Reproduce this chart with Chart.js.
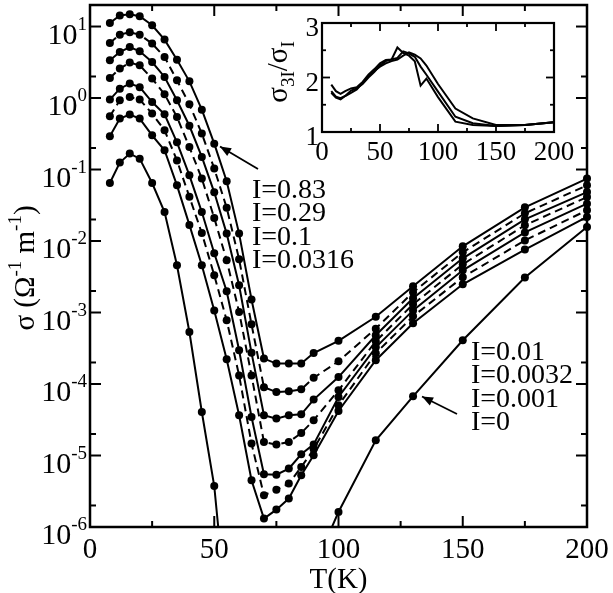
<!DOCTYPE html>
<html>
<head>
<meta charset="utf-8">
<script src="https://cdn.jsdelivr.net/npm/chart.js@4.4.0/dist/chart.umd.min.js"></script>
<style>
html,body{margin:0;padding:0;background:#fff;overflow:hidden}
#wrap{position:relative;width:613px;height:593px;background:#fff}
#main{position:absolute;left:0;top:0}
#inset{position:absolute;left:250px;top:0}
</style>
</head>
<body>
<div id="wrap">
<canvas id="main" width="613" height="593"></canvas>
<canvas id="inset" width="350" height="175"></canvas>
</div>
<script>
// ---------- data (main panel) ----------
const T_VALUES = [8,12,16,20,25,30,35,40,45,50,55,60,65,70,75,80,85,90,100,115,130,150,175,200];
const SIGMA_I083   = [11.2,14.3,14.8,13.9,10.4,6.56,3.44,1.71,0.688,0.230,0.0684,0.0127,1.52e-3,2.27e-4,1.93e-4,1.93e-4,1.93e-4,2.71e-4,4.02e-4,8.71e-4,2.33e-3,8.43e-3,0.0296,0.0746];
const SIGMA_I029   = [5.88,7.70,8.29,7.70,5.77,3.75,1.77,0.816,0.318,0.103,0.0293,5.55e-3,6.84e-4,8.99e-5,7.73e-5,7.90e-5,8.43e-5,1.22e-4,2.08e-4,5.95e-4,1.92e-3,6.95e-3,0.0244,0.0601];
const SIGMA_I01    = [3.37,4.40,5.17,4.50,3.19,1.97,0.929,0.409,0.150,0.0480,0.0127,2.40e-3,2.73e-4,3.65e-5,3.28e-5,3.65e-5,3.77e-5,6.05e-5,1.25e-4,4.80e-4,1.58e-3,5.73e-3,0.0201,0.0484];
const SIGMA_I00316 = [1.90,2.58,3.13,2.87,1.87,1.13,0.542,0.206,0.0746,0.0210,5.37e-3,1.02e-3,1.32e-4,1.54e-5,1.42e-5,1.54e-5,2.06e-5,3.11e-5,8.16e-5,3.96e-4,1.30e-3,4.72e-3,0.0166,0.0412];
const SIGMA_I001   = [0.950,1.35,1.59,1.42,0.879,0.592,0.240,0.0829,0.0254,6.73e-3,1.98e-3,2.96e-4,3.45e-5,5.46e-6,5.40e-6,6.56e-6,1.04e-5,1.43e-5,6.58e-5,3.26e-4,1.07e-3,3.89e-3,0.0132,0.0333];
const SIGMA_I00032 = [0.555,0.929,1.03,0.950,0.605,0.353,0.134,0.0415,0.0129,3.31e-3,7.78e-4,1.32e-4,1.47e-5,2.78e-6,3.33e-6,4.05e-6,6.90e-6,1.22e-5,5.04e-5,2.69e-4,8.85e-4,3.11e-3,0.0102,0.0269];
const SIGMA_I0001  = [0.291,0.515,0.586,0.515,0.301,0.186,0.0601,0.0168,4.57e-3,1.07e-3,2.22e-4,3.65e-5,4.50e-6,1.31e-6,1.75e-6,2.50e-6,5.28e-6,1.01e-5,4.19e-5,2.15e-4,7.06e-4,2.48e-3,7.58e-3,0.0217];
const SIGMA_I0     = [0.0648,0.125,0.167,0.142,0.0648,0.0254,4.57e-3,5.34e-4,4.06e-5,3.74e-6,6e-8,null,null,null,null,null,null,2.6e-7,1.62e-6,1.63e-5,6.73e-5,4.09e-4,3.08e-3,0.0157];

const LABELS_HIGH = ['I=0.83','I=0.29','I=0.1','I=0.0316'];
const LABELS_LOW  = ['I=0.01','I=0.0032','I=0.001','I=0'];
const X_TICKS = [0,50,100,150,200];
const X_MINOR = [25,75,125,175];
const Y_TICK_EXP = [-6,-5,-4,-3,-2,-1,0,1];
const Y_MINOR = [2e-6,2e-5,2e-4,2e-3,2e-2,2e-1,2];

// ---------- data (inset) ----------
const INSET_T  = [8,12,16,20,25,30,35,40,45,50,55,60,65,70,75,80,85,90,100,115,130,150,175,200];
const RATIO_A  = [1.87,1.75,1.70,1.75,1.80,1.82,1.92,2.05,2.15,2.26,2.32,2.33,2.55,2.45,2.40,2.30,1.85,1.98,1.64,1.19,1.13,1.11,1.13,1.18];
const RATIO_B  = [1.75,1.65,1.62,1.66,1.76,1.80,1.88,2.00,2.10,2.22,2.30,2.33,2.36,2.48,2.44,2.38,2.20,2.05,1.74,1.28,1.16,1.11,1.13,1.18];
const RATIO_C  = [1.72,1.63,1.60,1.66,1.72,1.78,1.90,2.02,2.12,2.20,2.26,2.30,2.33,2.40,2.46,2.42,2.35,2.22,1.88,1.43,1.25,1.13,1.13,1.18];
const INSET_X_TICKS = [0,50,100,150,200];
const INSET_X_MINOR = [25,75,125,175];
const INSET_Y_TICKS = [1,2,3];
const INSET_Y_MINOR = [1.5,2.5];

const FONT = "'Liberation Serif','Times New Roman',serif";

function line(ctx,x1,y1,x2,y2){ctx.beginPath();ctx.moveTo(x1,y1);ctx.lineTo(x2,y2);ctx.stroke();}
function arrow(ctx,x1,y1,x2,y2){
  line(ctx,x1,y1,x2,y2);
  const ang=Math.atan2(y2-y1,x2-x1), L=11, W=4.5;
  ctx.beginPath();
  ctx.moveTo(x2,y2);
  ctx.lineTo(x2-L*Math.cos(ang)+W*Math.sin(ang), y2-L*Math.sin(ang)-W*Math.cos(ang));
  ctx.lineTo(x2-L*Math.cos(ang)-W*Math.sin(ang), y2-L*Math.sin(ang)+W*Math.cos(ang));
  ctx.closePath(); ctx.fill();
}
function drawPieces(ctx,pieces,x,y,align){
  let w=0;
  pieces.forEach(p=>{ctx.font=p.size+'px '+FONT; p.w=ctx.measureText(p.t).width; w+=p.w;});
  let cx = align==='right'? x-w : (align==='center'? x-w/2 : x);
  ctx.textAlign='left'; ctx.textBaseline='alphabetic';
  pieces.forEach(p=>{ctx.font=p.size+'px '+FONT; ctx.fillText(p.t,cx,y+(p.shift||0)); cx+=p.w;});
}

const mainDecor = {
  id:'mainDecor',
  afterDraw(chart){
    const {ctx, chartArea:a, scales:{x,y}} = chart;
    ctx.save();
    ctx.strokeStyle='#000'; ctx.fillStyle='#000';
    ctx.lineWidth=2.5;
    ctx.strokeRect(a.left,a.top,a.right-a.left,a.bottom-a.top);
    ctx.lineWidth=2;
    X_TICKS.forEach(v=>{const p=x.getPixelForValue(v); line(ctx,p,a.bottom,p,a.bottom-11); line(ctx,p,a.top,p,a.top+11);});
    X_MINOR.forEach(v=>{const p=x.getPixelForValue(v); line(ctx,p,a.bottom,p,a.bottom-6); line(ctx,p,a.top,p,a.top+6);});
    Y_TICK_EXP.forEach(e=>{const p=y.getPixelForValue(Math.pow(10,e)); line(ctx,a.left,p,a.left+11,p); line(ctx,a.right,p,a.right-11,p);});
    Y_MINOR.forEach(v=>{const p=y.getPixelForValue(v); line(ctx,a.left,p,a.left+6,p); line(ctx,a.right,p,a.right-6,p);});
    ctx.font='29px '+FONT; ctx.textAlign='center'; ctx.textBaseline='alphabetic';
    X_TICKS.forEach(v=>{ctx.fillText(String(v), x.getPixelForValue(v), a.bottom+31);});
    Y_TICK_EXP.forEach(e=>{
      const p=y.getPixelForValue(Math.pow(10,e));
      drawPieces(ctx,[{t:'10',size:30,shift:0},{t:String(e),size:19,shift:-14}],87,p+17,'right');
    });
    ctx.font='29px '+FONT; ctx.textAlign='center';
    ctx.fillText('T(K)', x.getPixelForValue(100), 588);
    ctx.save();
    ctx.translate(34,268); ctx.rotate(-Math.PI/2);
    drawPieces(ctx,[{t:'σ (Ω',size:29},{t:'-1',size:19,shift:-13},{t:' m',size:29},{t:'-1',size:19,shift:-13},{t:')',size:29}],0,0,'center');
    ctx.restore();
    ctx.font='28px '+FONT; ctx.textAlign='left'; ctx.textBaseline='alphabetic';
    LABELS_HIGH.forEach((s,i)=>ctx.fillText(s,252,198+i*23.3));
    LABELS_LOW.forEach((s,i)=>ctx.fillText(s,471,360+i*23.3));
    ctx.lineWidth=1.8;
    arrow(ctx,258,169,220,146.5);
    arrow(ctx,457,414,422,396.5);
    ctx.restore();
  }
};

const series = [
  {v:SIGMA_I083,dash:[]},{v:SIGMA_I029,dash:[8,5]},{v:SIGMA_I01,dash:[]},{v:SIGMA_I00316,dash:[8,5]},
  {v:SIGMA_I001,dash:[]},{v:SIGMA_I00032,dash:[8,5]},{v:SIGMA_I0001,dash:[]},{v:SIGMA_I0,dash:[]}
];
new Chart(document.getElementById('main'),{
  type:'line',
  data:{datasets:series.map(s=>({
    data:T_VALUES.map((t,i)=>({x:t,y:s.v[i]})),
    borderColor:'#000',borderWidth:2,borderDash:s.dash,
    pointRadius:4,pointHoverRadius:4,pointBackgroundColor:'#000',pointBorderWidth:0,
    fill:false,tension:0,spanGaps:false,
    clip:{left:6,right:6,top:6,bottom:0}
  }))},
  options:{
    responsive:false,animation:false,events:[],
    layout:{padding:{left:90,right:26,top:5,bottom:66}},
    plugins:{legend:{display:false},tooltip:{enabled:false}},
    scales:{
      x:{type:'linear',min:0,max:200,display:false},
      y:{type:'logarithmic',min:1e-6,max:20,display:false}
    }
  },
  plugins:[mainDecor]
});

const insetDecor = {
  id:'insetDecor',
  afterDraw(chart){
    const {ctx, chartArea:a, scales:{x,y}} = chart;
    ctx.save();
    ctx.strokeStyle='#000'; ctx.fillStyle='#000';
    ctx.lineWidth=2.2;
    ctx.strokeRect(a.left,a.top,a.right-a.left,a.bottom-a.top);
    ctx.lineWidth=1.8;
    INSET_X_TICKS.forEach(v=>{const p=x.getPixelForValue(v); line(ctx,p,a.bottom,p,a.bottom-8); line(ctx,p,a.top,p,a.top+8);});
    INSET_X_MINOR.forEach(v=>{const p=x.getPixelForValue(v); line(ctx,p,a.bottom,p,a.bottom-4); line(ctx,p,a.top,p,a.top+4);});
    INSET_Y_TICKS.forEach(v=>{const p=y.getPixelForValue(v); line(ctx,a.left,p,a.left+8,p); line(ctx,a.right,p,a.right-8,p);});
    INSET_Y_MINOR.forEach(v=>{const p=y.getPixelForValue(v); line(ctx,a.left,p,a.left+4,p); line(ctx,a.right,p,a.right-4,p);});
    ctx.font='27px '+FONT; ctx.textAlign='center'; ctx.textBaseline='alphabetic';
    INSET_X_TICKS.forEach(v=>ctx.fillText(String(v), x.getPixelForValue(v), a.bottom+28));
    ctx.textAlign='right';
    INSET_Y_TICKS.forEach(v=>ctx.fillText(String(v), a.left-3, y.getPixelForValue(v)+13));
    ctx.save();
    ctx.translate(37,72); ctx.rotate(-Math.PI/2);
    drawPieces(ctx,[{t:'σ',size:29},{t:'3I',size:19,shift:7},{t:'/',size:29},{t:'σ',size:29},{t:'I',size:19,shift:7}],0,0,'center');
    ctx.restore();
    ctx.restore();
  }
};
new Chart(document.getElementById('inset'),{
  type:'line',
  data:{datasets:[RATIO_A,RATIO_B,RATIO_C].map(r=>({
    data:INSET_T.map((t,i)=>({x:t,y:r[i]})),
    borderColor:'#000',borderWidth:2,pointRadius:0,fill:false,tension:0
  }))},
  options:{
    responsive:false,animation:false,events:[],
    layout:{padding:{left:72,right:46,top:23,bottom:43}},
    plugins:{legend:{display:false},tooltip:{enabled:false}},
    scales:{
      x:{type:'linear',min:0,max:200,display:false},
      y:{type:'linear',min:1,max:3,display:false}
    }
  },
  plugins:[insetDecor]
});
</script>
</body>
</html>
